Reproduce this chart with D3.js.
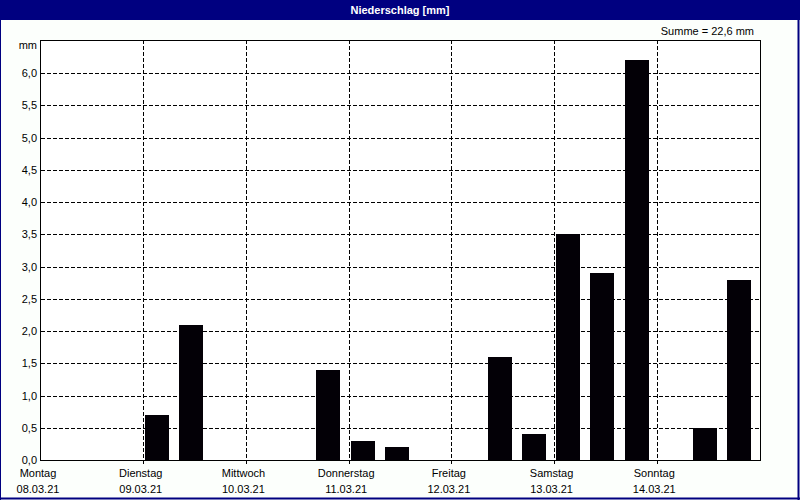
<!DOCTYPE html>
<html><head><meta charset="utf-8">
<script src="https://cdn.jsdelivr.net/npm/d3@7"></script>
<style>
body{margin:0;padding:0;background:#fcfffc;}
svg{display:block;}
text{font-family:"Liberation Sans Narrow","Liberation Sans",Arial,sans-serif;font-size:11px;fill:#000;}
</style></head><body>
<svg id="c" width="800" height="500"></svg>
<script>
const title = "Niederschlag [mm]";
const unitLabel = "mm";
const sumLabel = "Summe = 22,6 mm";
const days = ["Montag","Dienstag","Mittwoch","Donnerstag","Freitag","Samstag","Sonntag"];
const dates = ["08.03.21","09.03.21","10.03.21","11.03.21","12.03.21","13.03.21","14.03.21"];
// three 8-hour periods per day
const rain = [0,0,0, 0.7,2.1,0, 0,0,1.4, 0.3,0.2,0, 0,1.6,0.4, 3.5,2.9,6.2, 0,0.5,2.8];
const yTicks = [0.5,1,1.5,2,2.5,3,3.5,4,4.5,5,5.5,6];

const svg = d3.select("#c");
const L=41, R=760, T=40, B=460;
const x = d3.scaleLinear().domain([0, rain.length]).range([L, R]);
const y = d3.scaleLinear().domain([0, 6.5]).range([B, 41]);
const fmt = v => d3.format(".1f")(v).replace(".", ",");

svg.append("rect").attr("x",0).attr("y",0).attr("width",800).attr("height",500).attr("fill","#fcfffc");
// title bar
svg.append("rect").attr("x",0).attr("y",0).attr("width",800).attr("height",20).attr("fill","#000080");
svg.append("text").attr("x",400).attr("y",14).attr("text-anchor","middle")
  .style("font-family","'Liberation Sans',Arial,sans-serif").style("font-weight","bold").style("font-size","11px")
  .style("fill","#fff").text(title);
// window border
svg.append("line").attr("x1",0.5).attr("x2",0.5).attr("y1",20).attr("y2",500).attr("stroke","#000080");
svg.append("line").attr("x1",798.5).attr("x2",798.5).attr("y1",20).attr("y2",500).attr("stroke","#000080").attr("stroke-width",2);
svg.append("line").attr("x1",0).attr("x2",800).attr("y1",498.5).attr("y2",498.5).attr("stroke","#000080").attr("stroke-width",2);

// plot background
svg.append("rect").attr("x",L).attr("y",T).attr("width",R-L).attr("height",B-T).attr("fill","#fff");

// horizontal grid
svg.append("g").selectAll("line").data(yTicks).join("line")
  .attr("x1",L).attr("x2",R).attr("y1",d=>Math.round(y(d))+0.5).attr("y2",d=>Math.round(y(d))+0.5)
  .attr("stroke","#000").attr("stroke-dasharray","4,2");
// vertical day grid
const dayIdx = d3.range(1, days.length);
svg.append("g").selectAll("line").data(dayIdx).join("line")
  .attr("x1",d=>Math.floor(x(d*3))+0.5).attr("x2",d=>Math.floor(x(d*3))+0.5)
  .attr("y1",T).attr("y2",B+4)
  .attr("stroke","#000").attr("stroke-dasharray","4,2");

// bars
svg.append("g").selectAll("rect").data(rain.map((v,i)=>({v,i})).filter(d=>d.v>0)).join("rect")
  .attr("x",d=>Math.floor(x(d.i))+2)
  .attr("width",24)
  .attr("y",d=>Math.round(y(d.v)))
  .attr("height",d=>B-Math.round(y(d.v)))
  .attr("fill","#030006");

// frame
svg.append("rect").attr("x",L-0.5).attr("y",T+0.5).attr("width",R-L+1).attr("height",B-T)
  .attr("fill","none").attr("stroke","#000");

// y labels
svg.append("g").selectAll("text").data([0].concat(yTicks)).join("text")
  .attr("x",37).attr("y",d=>Math.round(y(d))+4).attr("text-anchor","end").text(fmt);
svg.append("text").attr("x",37).attr("y",49).attr("text-anchor","end").text(unitLabel);
svg.append("text").attr("x",754).attr("y",35).attr("text-anchor","end").text(sumLabel);

// x labels
svg.append("g").selectAll("text").data(days).join("text")
  .attr("x",(d,i)=>x(i*3)-3).attr("y",477).attr("text-anchor","middle").text(d=>d);
svg.append("g").selectAll("text").data(dates).join("text")
  .attr("x",(d,i)=>x(i*3)-3).attr("y",493).attr("text-anchor","middle").text(d=>d);
</script>
</body></html>
